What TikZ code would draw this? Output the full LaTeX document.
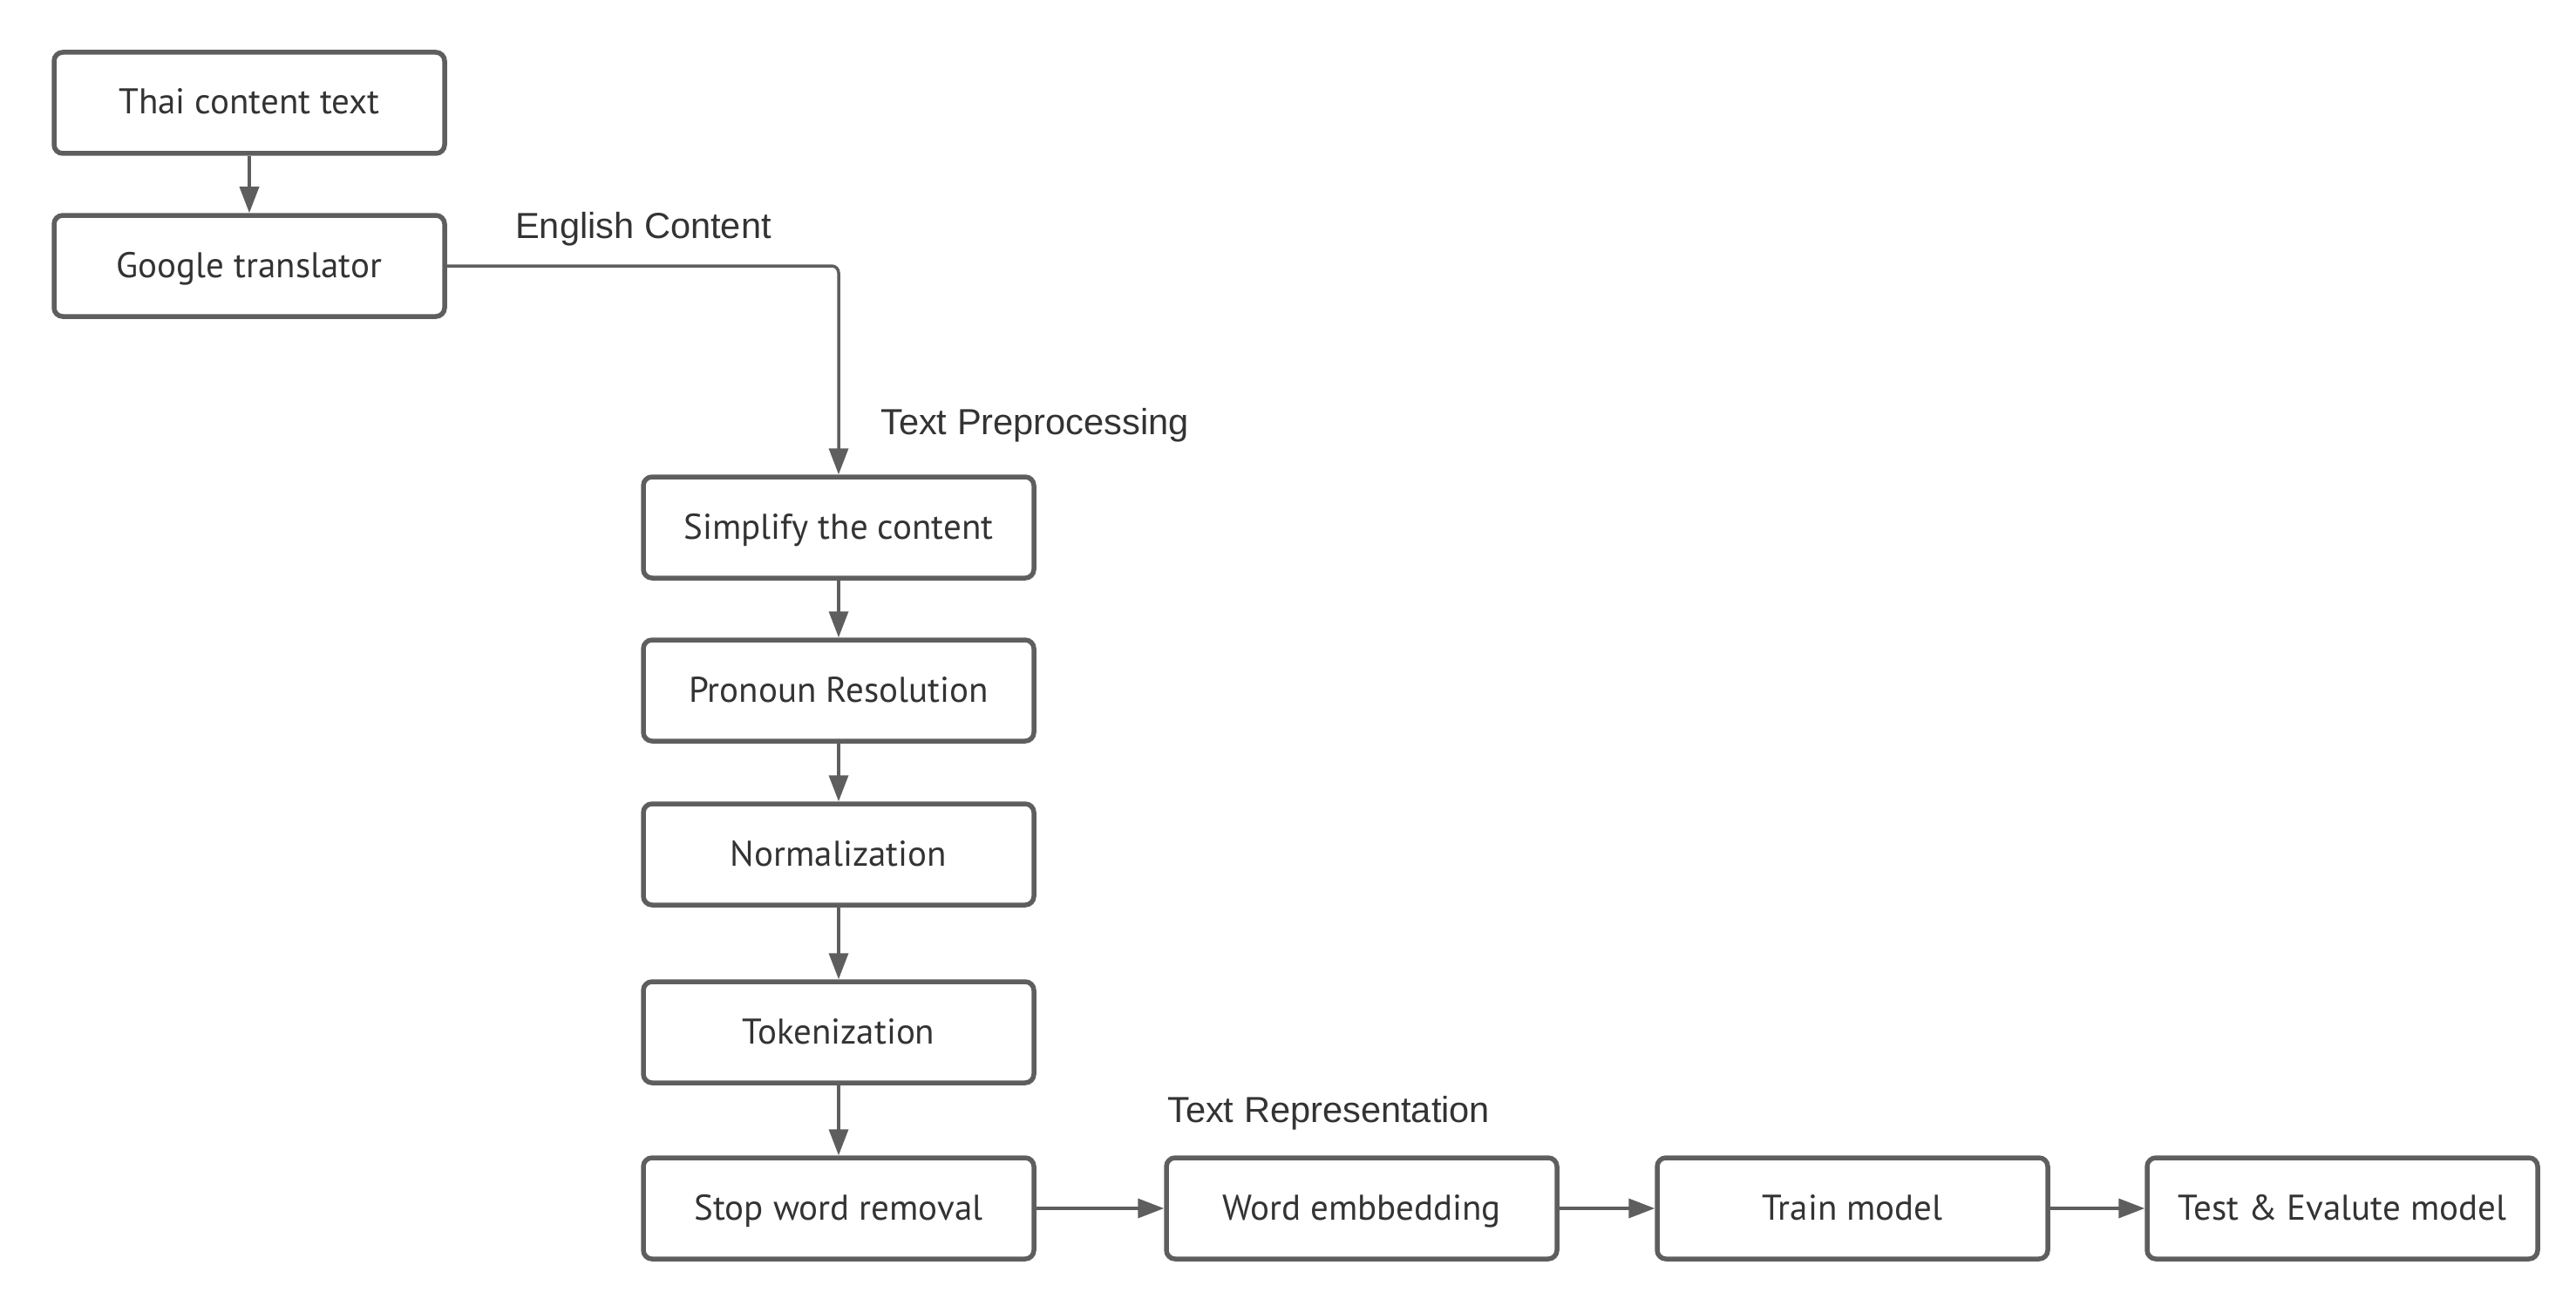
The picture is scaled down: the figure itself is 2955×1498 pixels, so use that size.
\documentclass[tikz,border=0pt]{standalone}
\usepackage{fontspec}
\setmainfont{PT Sans}
\newfontfamily\labfont{Liberation Sans}
\usetikzlibrary{arrows.meta}
\definecolor{ln}{HTML}{5E5E5E}
\definecolor{tx}{HTML}{333333}
\tikzset{
  x=1pt,y=-1pt,
  box/.style={draw=ln, line width=5.5pt, rounded corners=10pt, fill=white,
    minimum width=448pt, minimum height=116pt, inner sep=0pt,
    font=\fontsize{41}{45}\selectfont, text=tx, text height=30pt, text depth=4pt},
  lab/.style={font=\labfont\fontsize{41.6}{45}\selectfont, text=tx, inner sep=0pt},
  conn/.style={draw=ln, line width=3.5pt, -{Triangle[length=30pt,width=22pt]}},
}
\begin{document}
\begin{tikzpicture}
\useasboundingbox (0,0) rectangle (2955,1498);
\node[box] (thai) at (286,118) {Thai content text};
\node[box] (google) at (286,305) {Google translator};
\node[box] (simp) at (962,605) {Simplify the content};
\node[box] (pron) at (962,792) {Pronoun Resolution};
\node[box] (norm) at (962,980) {Normalization};
\node[box] (tok) at (962,1184) {Tokenization};
\node[box] (stop) at (962,1386) {Stop word removal};
\node[box] (emb) at (1562,1386) {Word embbedding};
\node[box] (train) at (2125,1386) {Train model};
\node[box] (test) at (2687,1386) {Test \& Evalute model};
\node[lab, anchor=west] (eng) at (591,263) {English Content};
\node[lab, anchor=west] (pre) at (1010,488) {Text Preprocessing};
\node[lab, anchor=west] (rep) at (1339,1277) {Text Representation};
\draw[conn] (thai) -- (google);
\draw[conn, rounded corners=8pt] (google.east) -| (simp.north);
\draw[conn] (simp) -- (pron);
\draw[conn] (pron) -- (norm);
\draw[conn] (norm) -- (tok);
\draw[conn] (tok) -- (stop);
\draw[conn] (stop) -- (emb);
\draw[conn] (emb) -- (train);
\draw[conn] (train) -- (test);
\end{tikzpicture}
\end{document}
